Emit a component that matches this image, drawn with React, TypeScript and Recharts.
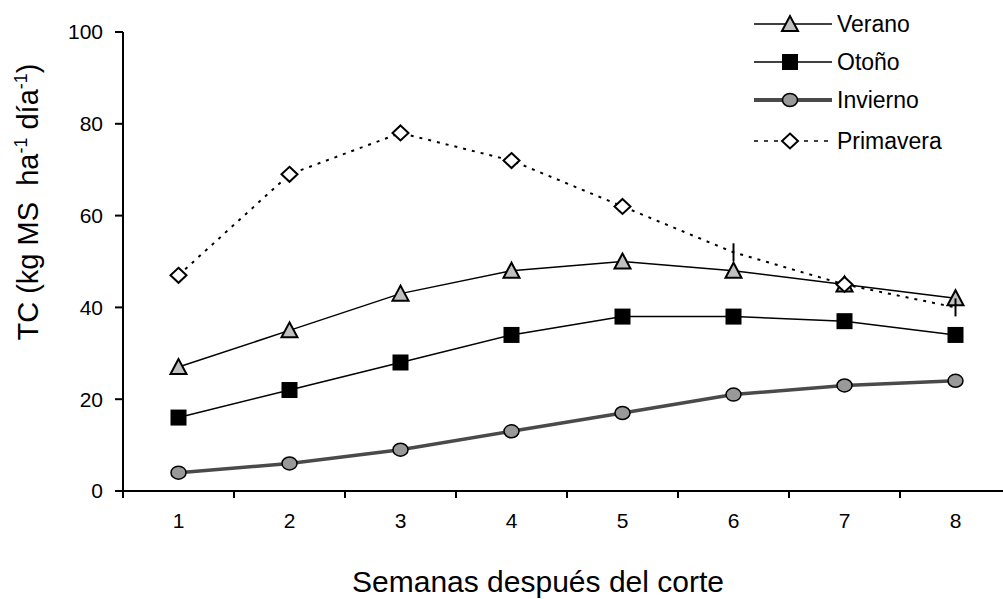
import React from "react";
import { LineChart, Line, XAxis, YAxis, Legend } from "recharts";

const weeks = [1, 2, 3, 4, 5, 6, 7, 8];
const verano = [27, 35, 43, 48, 50, 48, 45, 42];
const otono = [16, 22, 28, 34, 38, 38, 37, 34];
const invierno = [4, 6, 9, 13, 17, 21, 23, 24];
const primavera = [47, 69, 78, 72, 62, 52, 45, 40];
const yTicks = [0, 20, 40, 60, 80, 100];

const data = weeks.map((w, i) => ({
  week: w,
  verano: verano[i],
  otono: otono[i],
  invierno: invierno[i],
  primavera: primavera[i],
}));

const FONT = "Arial, 'Liberation Sans', sans-serif";
const CHART_W = 1012;
const PLOT_LEFT = 123;
const PLOT_RIGHT = 1011;
const AXIS_Y = 491;
const HALF_BAND = (PLOT_RIGHT - PLOT_LEFT) / weeks.length / 2;

const triangle = (cx: number, cy: number, key?: any) => (
  <polygon
    key={key}
    points={`${cx},${cy - 8} ${cx - 8},${cy + 7} ${cx + 8},${cy + 7}`}
    fill="#c0c0c0"
    stroke="#000"
    strokeWidth={2}
  />
);

const square = (cx: number, cy: number, key?: any) => (
  <rect key={key} x={cx - 8} y={cy - 8} width={16} height={16} fill="#000" />
);

const circle = (cx: number, cy: number, key?: any) => (
  <ellipse key={key} cx={cx} cy={cy} rx={7.5} ry={6.5} fill="#999" stroke="#000" strokeWidth={1.5} />
);

const diamond = (cx: number, cy: number, key?: any) => (
  <polygon
    key={key}
    points={`${cx},${cy - 7.5} ${cx + 8},${cy} ${cx},${cy + 7.5} ${cx - 8},${cy}`}
    fill="#fff"
    stroke="#000"
    strokeWidth={2}
  />
);

// primavera markers at weeks 6 and 8 show up as a plain vertical bar in the original
const primaveraDot = (props: any) => {
  const { cx, cy, index, key } = props;
  if (index === 5 || index === 7) {
    return <line key={key} x1={cx} x2={cx} y1={cy - 9} y2={cy + 9} stroke="#000" strokeWidth={2} />;
  }
  return diamond(cx, cy, key);
};

const XTick = (props: any) => {
  const { x, payload } = props;
  return (
    <g>
      <line x1={x - HALF_BAND} x2={x - HALF_BAND} y1={AXIS_Y} y2={AXIS_Y + 7} stroke="#000" strokeWidth={2} />
      <text x={x} y={528} textAnchor="middle" fontSize={21} fontFamily={FONT} fill="#000">
        {payload.value}
      </text>
    </g>
  );
};

const legendRows = [
  { name: "Verano", y: 24, marker: triangle, stroke: "#000", width: 1.5, dash: undefined },
  { name: "Otoño", y: 62, marker: square, stroke: "#000", width: 1.5, dash: undefined },
  { name: "Invierno", y: 100, marker: circle, stroke: "#4a4a4a", width: 4, dash: undefined },
  { name: "Primavera", y: 141, marker: diamond, stroke: "#000", width: 1.5, dash: "4 6" },
];

const LegendBox = () => (
  <svg width={260} height={170} style={{ display: "block" }}>
    {legendRows.map((r) => (
      <g key={r.name}>
        <line x1={14} x2={92} y1={r.y} y2={r.y} stroke={r.stroke} strokeWidth={r.width} strokeDasharray={r.dash} />
        {r.marker(50, r.y)}
        <text x={97} y={r.y} dy="0.36em" fontSize={23} fontFamily={FONT} fill="#000">
          {r.name}
        </text>
      </g>
    ))}
  </svg>
);

export default function App() {
  return (
    <div style={{ position: "absolute", left: 0, top: 0, width: 1003, height: 599, overflow: "hidden", background: "#fff" }}>
      <LineChart width={CHART_W} height={599} data={data} margin={{ top: 32, right: CHART_W - PLOT_RIGHT, left: 0, bottom: 78 }}>
        <XAxis
          dataKey="week"
          type="number"
          domain={[0.5, 8.5]}
          ticks={weeks}
          height={30}
          tickLine={false}
          axisLine={{ stroke: "#000", strokeWidth: 2 }}
          tick={XTick}
          label={{
            content: () => (
              <text x={538} y={592} textAnchor="middle" fontSize={30} fontFamily={FONT} fill="#000">
                Semanas después del corte
              </text>
            ),
          }}
        />
        <YAxis
          type="number"
          domain={[0, 100]}
          ticks={yTicks}
          width={PLOT_LEFT}
          tickSize={8}
          tickMargin={12}
          tickLine={{ stroke: "#000", strokeWidth: 2 }}
          axisLine={{ stroke: "#000", strokeWidth: 2 }}
          tick={{ fill: "#000", fontSize: 21, fontFamily: FONT }}
          label={{
            content: () => (
              <text
                x={38}
                y={202}
                transform="rotate(-90, 38, 202)"
                textAnchor="middle"
                fontSize={29}
                fontFamily={FONT}
                fill="#000"
                style={{ whiteSpace: "pre" }}
              >
                {"TC (kg MS  ha"}
                <tspan fontSize={18} dy={-11}>-1</tspan>
                <tspan dy={11}>{" día"}</tspan>
                <tspan fontSize={18} dy={-11}>-1</tspan>
                <tspan dy={11}>)</tspan>
              </text>
            ),
          }}
        />
        <Legend
          layout="vertical"
          align="center"
          verticalAlign="middle"
          content={() => <LegendBox />}
          wrapperStyle={{ position: "absolute", left: 740, top: 0, width: 260, height: 170 }}
        />
        <Line
          dataKey="invierno"
          name="Invierno"
          stroke="#4a4a4a"
          strokeWidth={3.5}
          dot={(p: any) => circle(p.cx, p.cy, p.key)}
          isAnimationActive={false}
        />
        <Line
          dataKey="otono"
          name="Otoño"
          stroke="#000"
          strokeWidth={1.5}
          dot={(p: any) => square(p.cx, p.cy, p.key)}
          isAnimationActive={false}
        />
        <Line
          dataKey="verano"
          name="Verano"
          stroke="#000"
          strokeWidth={1.5}
          dot={(p: any) => triangle(p.cx, p.cy, p.key)}
          isAnimationActive={false}
        />
        <Line
          dataKey="primavera"
          name="Primavera"
          stroke="#000"
          strokeWidth={2}
          strokeDasharray="3 6"
          dot={primaveraDot}
          isAnimationActive={false}
        />
      </LineChart>
    </div>
  );
}
